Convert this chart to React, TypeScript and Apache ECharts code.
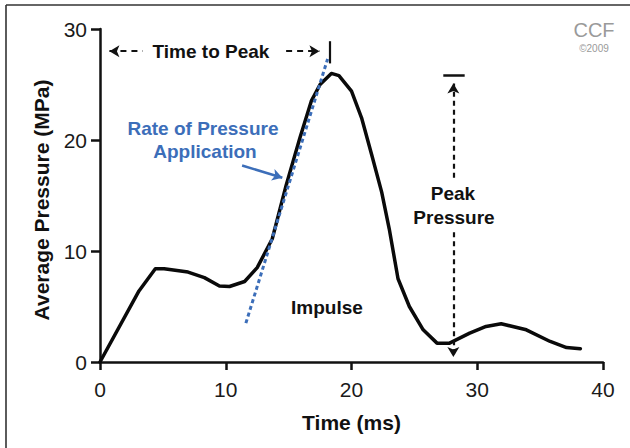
import React, { useEffect, useRef } from "react";
import * as echarts from "echarts";

// Pressure curve
const timeMs = [0, 3.1, 4.4, 5.1, 7.0, 8.3, 9.5, 10.3, 11.5, 12.5, 13.7, 14.8, 15.9, 16.8, 17.5, 18.4, 19.0, 20.0, 20.8, 21.6, 22.4, 23.0, 23.7, 24.6, 25.7, 26.8, 27.8, 29.4, 30.7, 31.9, 33.9, 35.8, 37.1, 38.2];
const pressureMPa = [0, 6.4, 8.4, 8.4, 8.1, 7.6, 6.85, 6.8, 7.25, 8.5, 11.1, 15.9, 20.2, 23.5, 25.0, 26.0, 25.8, 24.4, 22.0, 18.7, 15.3, 12.0, 7.5, 5.0, 2.9, 1.7, 1.7, 2.6, 3.2, 3.45, 2.9, 1.85, 1.3, 1.2];

// Rate of pressure application (tangent line)
const rateTime = [11.6, 18.1];
const ratePressure = [3.5, 27.3];

// Axis ticks
const xTicks = [0, 10, 20, 30, 40];
const yTicks = [0, 10, 20, 30];

// Annotation coordinates (data space)
const timeToPeakLevel = 28.0;
const timeToPeakLeft = [0.75, 3.4];
const timeToPeakRight = [14.8, 17.45];
const timeToPeakBar = [18.3, 26.9, 28.9];
const peakTime = 28.1;
const peakValue = 25.8;
const peakCap = [27.3, 29.0];
const peakUpper = [16.6, 25.1];
const peakLower = [11.7, 0.45];
const rateArrowFrom = [11.3, 17.7];
const rateArrowTo = [14.5, 16.6];

const BLUE = "#3c6eb9";
const FONT = "Liberation Sans, Arial, Helvetica, sans-serif";

const arrowSize = [9, 10];

function buildOption() {
  const dashed = { color: "#111", width: 2.2, type: [5, 4] as any };
  const markLineData: any[] = [
    [
      { coord: [timeToPeakLeft[0], timeToPeakLevel], symbol: "arrow", symbolSize: arrowSize, lineStyle: { ...dashed, type: [6, 5] } },
      { coord: [timeToPeakLeft[1], timeToPeakLevel], symbol: "none" },
    ],
    [
      { coord: [timeToPeakRight[0], timeToPeakLevel], symbol: "none", lineStyle: { ...dashed, type: [6, 5] } },
      { coord: [timeToPeakRight[1], timeToPeakLevel], symbol: "arrow", symbolSize: arrowSize },
    ],
    [
      { coord: [timeToPeakBar[0], timeToPeakBar[1]], symbol: "none", lineStyle: { color: "#111", width: 2.2, type: "solid" } },
      { coord: [timeToPeakBar[0], timeToPeakBar[2]], symbol: "none" },
    ],
    [
      { coord: [peakCap[0], peakValue], symbol: "none", lineStyle: { color: "#111", width: 2.5, type: "solid" } },
      { coord: [peakCap[1], peakValue], symbol: "none" },
    ],
    [
      { coord: [peakTime, peakUpper[0]], symbol: "none", lineStyle: dashed },
      { coord: [peakTime, peakUpper[1]], symbol: "arrow", symbolSize: arrowSize },
    ],
    [
      { coord: [peakTime, peakLower[0]], symbol: "none", lineStyle: dashed },
      { coord: [peakTime, peakLower[1]], symbol: "arrow", symbolSize: arrowSize },
    ],
    [
      { coord: rateArrowFrom, symbol: "none", lineStyle: { color: BLUE, width: 2.5, type: "solid" } },
      { coord: rateArrowTo, symbol: "arrow", symbolSize: arrowSize },
    ],
  ];

  const txt = (text: string, x: number, y: number, size: number, color: string, weight: any = "bold", extra: any = {}) => ({
    type: "text",
    x,
    y,
    z: 100,
    silent: true,
    ...extra,
    style: {
      text,
      fill: color,
      fontSize: size,
      fontWeight: weight,
      fontFamily: FONT,
      textAlign: "center",
      textVerticalAlign: "middle",
    },
  });

  return {
    animation: false,
    backgroundColor: "#ffffff",
    grid: { left: 100, right: 27, top: 29, bottom: 86, containLabel: false },
    xAxis: {
      type: "value",
      min: xTicks[0],
      max: xTicks[xTicks.length - 1],
      interval: 10,
      name: "Time (ms)",
      nameLocation: "middle",
      nameGap: 50,
      nameTextStyle: { fontSize: 21, fontWeight: "bold", color: "#111", fontFamily: FONT },
      axisLine: { show: true, lineStyle: { color: "#111", width: 2.5 } },
      axisTick: { show: true, length: 8, lineStyle: { color: "#111", width: 2.5 } },
      axisLabel: { fontSize: 21, color: "#1a1a1a", margin: 17, fontFamily: FONT },
      splitLine: { show: false },
    },
    yAxis: {
      type: "value",
      min: yTicks[0],
      max: yTicks[yTicks.length - 1],
      interval: 10,
      axisLine: { show: true, lineStyle: { color: "#111", width: 2.5 } },
      axisTick: { show: true, length: 9, lineStyle: { color: "#111", width: 2.5 } },
      axisLabel: { fontSize: 21, color: "#1a1a1a", margin: 13, fontFamily: FONT },
      splitLine: { show: false },
    },
    series: [
      {
        type: "line",
        data: timeMs.map((t, i) => [t, pressureMPa[i]]),
        showSymbol: false,
        symbol: "none",
        smooth: false,
        lineStyle: { color: "#0a0a0a", width: 3.5, join: "round", cap: "round" },
        z: 3,
        silent: true,
      },
      {
        type: "line",
        data: rateTime.map((t, i) => [t, ratePressure[i]]),
        showSymbol: false,
        symbol: "none",
        lineStyle: { color: BLUE, width: 3, type: [4, 3] },
        z: 4,
        silent: true,
        markLine: {
          silent: true,
          symbol: ["none", "none"],
          label: { show: false },
          emphasis: { disabled: true },
          data: markLineData,
        },
      },
    ],
    graphic: [
      { type: "line", z: 100, silent: true, shape: { x1: 6, y1: 5, x2: 630, y2: 5 }, style: { stroke: "#333", lineWidth: 1.6 } },
      { type: "line", z: 100, silent: true, shape: { x1: 6, y1: 5, x2: 6, y2: 448 }, style: { stroke: "#333", lineWidth: 1.6 } },
      txt("Average Pressure (MPa)", 41, 200, 21, "#111", "bold", { rotation: Math.PI / 2 }),
      txt("Time to Peak", 211, 51, 19, "#111"),
      txt("Rate of Pressure", 203, 128, 19, BLUE),
      txt("Application", 205, 151, 19, BLUE),
      txt("Impulse", 327, 307, 19, "#111"),
      txt("Peak", 453, 193, 19, "#111"),
      txt("Pressure", 454, 217, 19, "#111"),
      txt("CCF", 594, 30, 20, "#9a9a9a", "normal"),
      txt("©2009", 594, 48.5, 10, "#9a9a9a", "normal"),
    ],
  };
}

export default function App() {
  const ref = useRef<HTMLDivElement>(null);
  useEffect(() => {
    document.body.style.margin = "0";
    const chart = echarts.init(ref.current as HTMLDivElement, null, { renderer: "svg" });
    chart.setOption(buildOption() as any);
    return () => chart.dispose();
  }, []);
  return <div ref={ref} style={{ width: 630, height: 448, background: "#fff" }} />;
}
